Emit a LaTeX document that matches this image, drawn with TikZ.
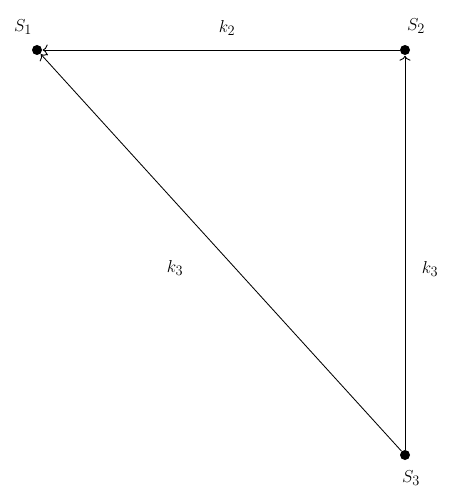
\documentclass[tikz,border=0pt]{standalone}
\usetikzlibrary{arrows.meta}
\begin{document}
\begin{tikzpicture}[x=1pt,y=-1pt,
  dot/.style={circle,fill=black,inner sep=0pt,minimum size=10pt},
  lbl/.style={font=\fontsize{19}{21}\selectfont,inner sep=0pt},
  conn/.style={line width=0.85pt,-{To[length=5pt,width=11pt,line width=0.9pt]},shorten >=0.5pt}]
\useasboundingbox (0,0) rectangle (453,500);
\node[dot] (s1) at (37,50) {};
\node[dot] (s2) at (405,50) {};
\node[dot] (s3) at (405,455) {};
\node[lbl] (l1) at (23,27) {$S_1$};
\node[lbl] (l2) at (416,26) {$S_2$};
\node[lbl] (l3) at (411,478) {$S_3$};
\draw[conn] (s2) -- (s1);
\draw[conn] (s3) -- (s2);
\draw[conn] (s3) -- (s1);
\node[lbl] (k2) at (227,28) {$k_2$};
\node[lbl] (k3r) at (430,269) {$k_3$};
\node[lbl] (k3l) at (175,268) {$k_3$};
\end{tikzpicture}
\end{document}
